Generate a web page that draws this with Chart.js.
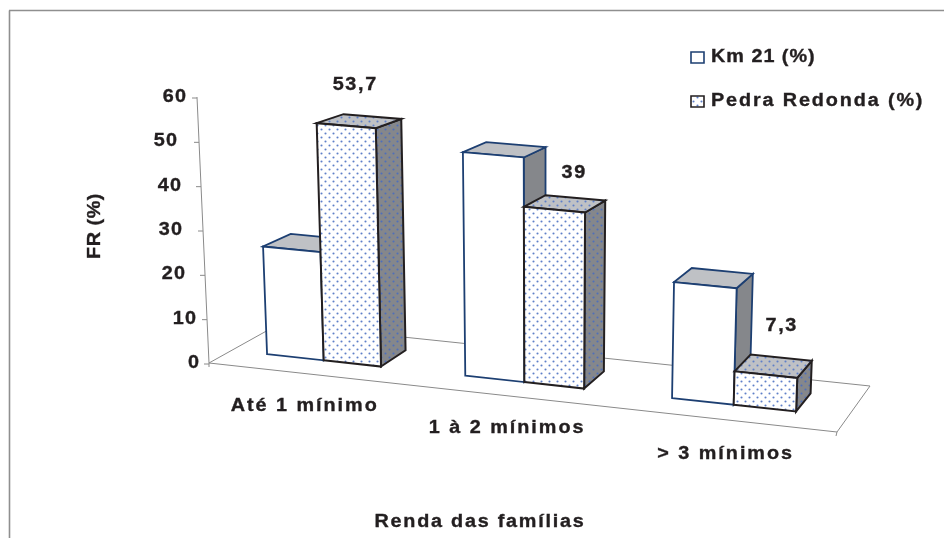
<!DOCTYPE html>
<html><head><meta charset="utf-8">
<style>html,body{margin:0;padding:0;background:#fff}canvas{display:block}</style>
<script src="https://cdn.jsdelivr.net/npm/chart.js@4"></script>
</head><body><div style="width:944px;height:538px"><canvas id="c"></canvas></div>
<script>
const categories = ["Até 1 mínimo", "1 à 2 mínimos", "> 3 mínimos"];
const km21 = [24.5, 50, 25.5];
const pedraRedonda = [53.7, 39, 7.3];
const yTicks = [0, 10, 20, 30, 40, 50, 60];
const seriesNames = ["Km 21 (%)", "Pedra Redonda (%)"];
const axisTitleX = "Renda das famílias";
const axisTitleY = "FR (%)";

const INK = "#231f20", LINE = "#8a8a8a", NAVY = "#1d3f72", DARK = "#231f20";
const FONT = '"Liberation Sans", Arial, sans-serif';
// floor quadrilateral of the 3-D scene (front-left, front-right, back-right, back-left)
const A = [209,363], B = [837,432], C = [870,386], D = [279,324];
const WF = 0.31, WB = 0.71, USHIFT = -0.009;
// right edge of the value labels, top of axis to bottom
const tickRight = {60:187,50:178,40:182,30:183,20:186,10:197,0:200};
const catLabelOff = [[2,33],[0,32],[5,35]];
const valLabelOff = [[-46,-34],[-31,-28],[-30,-35]];

function homography(){
  const dx1=B[0]-C[0],dx2=D[0]-C[0],sx=A[0]-B[0]+C[0]-D[0];
  const dy1=B[1]-C[1],dy2=D[1]-C[1],sy=A[1]-B[1]+C[1]-D[1];
  const den=dx1*dy2-dx2*dy1;
  const g=(sx*dy2-dx2*sy)/den,h=(dx1*sy-sx*dy1)/den;
  const a=B[0]-A[0]+g*B[0],b=D[0]-A[0]+h*D[0],d=B[1]-A[1]+g*B[1],e=D[1]-A[1]+h*D[1];
  return (u,w)=>{const q=g*u+h*w+1;return [(a*u+b*w+A[0])/q,(d*u+e*w+A[1])/q];};
}
const floor = homography();
function pt(u,w,hPx){
  const p=floor(u,w), H=hPx*(1.04-0.075*w)*(0.972+0.05*u);
  return [p[0]+(p[0]-545)/7480*H, p[1]-H];
}
function tile(bg,dot){
  const c=document.createElement("canvas");c.width=c.height=8;
  const x=c.getContext("2d");x.fillStyle=bg;x.fillRect(0,0,8,8);x.fillStyle=dot;
  [[1.5,1.5],[5.5,5.5]].forEach(p=>{x.beginPath();x.arc(p[0],p[1],1.05,0,7);x.fill();});
  return c;
}
function poly(ctx,pts,fill,stroke,lw){
  ctx.beginPath();pts.forEach((p,i)=>i?ctx.lineTo(p[0],p[1]):ctx.moveTo(p[0],p[1]));ctx.closePath();
  ctx.fillStyle=fill;ctx.fill();ctx.strokeStyle=stroke;ctx.lineWidth=lw;ctx.lineJoin="miter";ctx.stroke();
}
function txt(ctx,s,x,y,size,align,sp,sx){
  ctx.save();ctx.translate(x,y);ctx.scale(sx||1.1,1);
  ctx.font="bold "+size+"px "+FONT;ctx.fillStyle=INK;ctx.strokeStyle=INK;ctx.lineWidth=0.35;ctx.textAlign=align;ctx.textBaseline="middle";
  ctx.letterSpacing=(sp||0)+"px";ctx.fillText(s,0,0);ctx.strokeText(s,0,0);ctx.restore();
}
function seg(ctx,p,q,col,w){ctx.beginPath();ctx.moveTo(p[0],p[1]);ctx.lineTo(q[0],q[1]);ctx.strokeStyle=col||LINE;ctx.lineWidth=w||1;ctx.stroke();}

const scene = {
  id:"scene",
  beforeDatasetsDraw(chart){
    const ctx=chart.ctx,a=chart.chartArea,ys=chart.scales.y,xs=chart.scales.x;
    ctx.save();
    // frame
    seg(ctx,[9.5,538],[9.5,10.5],"#8f8f8f",1.6);seg(ctx,[9,10.5],[944,10.5],"#8f8f8f",1.6);
    // floor
    seg(ctx,A,B);seg(ctx,B,C);seg(ctx,C,D);seg(ctx,D,A);
    seg(ctx,B,[B[0]-1,B[1]+4]);seg(ctx,A,[A[0],A[1]+4]);
    // value axis
    const hTop=ys.getPixelForValue(0)-ys.getPixelForValue(60);
    const axTop=[A[0]-12,A[1]-hTop];
    seg(ctx,A,axTop);
    yTicks.forEach(v=>{
      const f=v/60, x=A[0]+(axTop[0]-A[0])*f, y=ys.getPixelForValue(v)+1;
      seg(ctx,[x-5,y],[x,y]);
      txt(ctx,String(v),tickRight[v],y-1,18,"right",1);
    });
    // category labels
    categories.forEach((c,i)=>{
      const u=(xs.getPixelForValue(i)-a.left)/a.width+USHIFT,p=floor(u,0);
      txt(ctx,c,p[0]+catLabelOff[i][0],p[1]+catLabelOff[i][1],18,"center",1.8);
    });
    // boxes, back to front per category
    const pats=[
      {front:"#ffffff",top:"#bfc1c5",side:"#85878b",stroke:NAVY,lw:1.8},
      {front:ctx.createPattern(tile("#ffffff","#5f7fc8"),"repeat"),top:ctx.createPattern(tile("#bfc1c5","#5f7fc8"),"repeat"),side:ctx.createPattern(tile("#85878b","#4f6fbb"),"repeat"),stroke:DARK,lw:2}
    ];
    categories.forEach((_,i)=>{
      chart.data.datasets.forEach((ds,di)=>{
        const el=chart.getDatasetMeta(di).data[i];
        const p=el.getProps(["x","y","base","width"],true);
        const u0=(p.x-p.width/2-a.left)/a.width+USHIFT,u1=(p.x+p.width/2-a.left)/a.width+USHIFT,h=p.base-p.y;
        const s=pats[di];
        const fbl=pt(u0,WF,0),fbr=pt(u1,WF,0),ftl=pt(u0,WF,h),ftr=pt(u1,WF,h);
        const bbr=pt(u1,WB,0),btl=pt(u0,WB,h),btr=pt(u1,WB,h);
        poly(ctx,[fbr,bbr,btr,ftr],s.side,s.stroke,s.lw);
        poly(ctx,[ftl,ftr,btr,btl],s.top,s.stroke,s.lw);
        poly(ctx,[fbl,fbr,ftr,ftl],s.front,s.stroke,s.lw);
        if(di===1){
          const v=String(ds.data[i]).replace(".",",");
          txt(ctx,v,btr[0]+valLabelOff[i][0],btr[1]+valLabelOff[i][1],18,"center",1.5);
        }
      });
    });
    // legend
    [[691,52,57],[691,96,101]].forEach((pos,di)=>{
      const s=pats[di];ctx.beginPath();ctx.rect(pos[0],pos[1],13,11);
      ctx.fillStyle=s.front;ctx.fill();ctx.strokeStyle=s.stroke;ctx.lineWidth=1.6;ctx.stroke();
      txt(ctx,seriesNames[di],711,pos[2],18,"left",di?1.7:0.9);
    });
    // axis titles
    txt(ctx,axisTitleX,480,522,18,"center",1.6);
    ctx.save();ctx.translate(95,226);ctx.rotate(-Math.PI/2);txt(ctx,axisTitleY,0,0,18,"center",0.5,1.1);ctx.restore();
    ctx.restore();
  },
  beforeDatasetDraw(){ return false; }
};

new Chart(document.getElementById("c"),{
  type:"bar",
  data:{labels:categories,datasets:[
    {label:seriesNames[0],data:km21,backgroundColor:"#ffffff",borderColor:NAVY},
    {label:seriesNames[1],data:pedraRedonda,backgroundColor:"#dfe6f5",borderColor:DARK}
  ]},
  options:{
    responsive:true,maintainAspectRatio:false,animation:false,
    layout:{padding:{left:209,right:107,top:97,bottom:175}},
    categoryPercentage:0.58,barPercentage:1,
    plugins:{legend:{display:false},tooltip:{enabled:false}},
    scales:{
      x:{display:false,type:"category"},
      y:{display:false,min:0,max:60,ticks:{stepSize:10}}
    }
  },
  plugins:[scene]
});
</script></body></html>
